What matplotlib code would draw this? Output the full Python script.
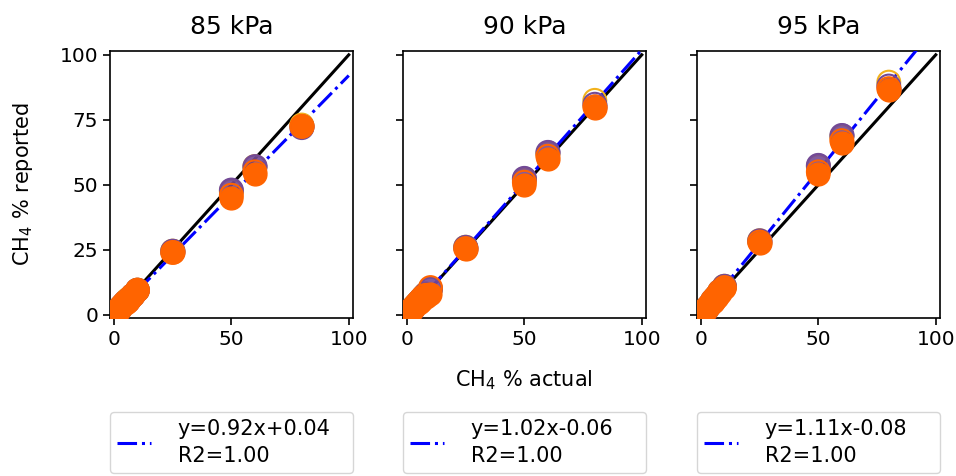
import matplotlib
matplotlib.use("Agg")
from matplotlib import pyplot as plt

# actual CH4 % (x) used in every panel
x_actual = [0.5, 1, 2, 3, 4, 5, 6, 7, 8, 10, 25, 50, 60, 80]

titles = ["85 kPa", "90 kPa", "95 kPa"]
slopes = [0.92, 1.02, 1.11]
intercepts = [0.04, -0.06, -0.08]
r2_values = [1.00, 1.00, 1.00]

# reported CH4 % per panel, per sensor series
gold_open = [
    [0.5, 1, 2, 3, 4, 5, 6, 6.5, 7.5, 9.5, 24.5, 47.5, 57, 73],
    [0.5, 1, 2, 3, 4, 5, 6, 7, 8, 10, 26, 52, 62, 82.5],
    [0.5, 1, 2, 3, 4, 5.5, 6.5, 7.5, 9, 11, 28.5, 57, 68.5, 89.5],
]
purple_open = [
    [0.5, 1, 2, 3, 4, 5, 5.5, 6.5, 7.5, 9.5, 24.5, 48, 57, 72],
    [0.5, 1, 2, 3, 4, 5, 6, 7, 8, 10, 26, 52.5, 62.5, 81],
    [0.5, 1, 2, 3, 4, 5.5, 6.5, 7.5, 9, 11, 28.5, 57.5, 69, 88],
]
purple_fill = [
    [0.5, 1, 2, 3, 4, 5, 5.5, 6.5, 7.5, 9.5, 24.5, 48, 57.3, 72.5],
    [0.5, 1, 2, 3, 4, 5, 6, 7, 8, 10, 25.8, 52.5, 62.5, 80.5],
    [0.5, 1, 2, 3, 4, 5.5, 6.5, 7.5, 9, 11, 28.5, 57.5, 69, 87],
]
orange_open = [
    [0.5, 1, 2, 3, 4, 5, 5.5, 6.5, 7.5, 9.5, 24, 46, 55, 72.5],
    [0.5, 1, 2, 3, 4, 5, 6, 7, 7.5, 10.5, 25.5, 51, 61, 80],
    [0.5, 1, 2, 3, 4, 5.5, 6.5, 7.5, 9, 10.5, 28, 55, 67, 87],
]
orange_fill = [
    [0.5, 1, 2, 3, 4, 4.5, 5.5, 6.5, 7.5, 9.5, 24, 45, 54, 72.5],
    [0.5, 1, 2, 3, 4, 4.5, 5.5, 6.5, 7, 8, 25.5, 50, 60, 79.6],
    [0.5, 1, 2, 3, 4, 5, 6, 7, 8.5, 10.5, 27.7, 54, 66, 86.5],
]

c_orange = "#ff6400"
c_purple = "#734a96"
c_gold = "#f2b21c"

plt.rcParams['font.family'] = ['DejaVu Sans']

fig = plt.figure(figsize=(9.56, 4.76), dpi=100)
lefts = [0.115, 0.4215, 0.729]
axes = []
for i in range(3):
    ax = fig.add_axes([lefts[i], 0.332, 0.254, 0.561])
    axes.append(ax)
    ms = 270
    ax.plot([0, 100], [0, 100], color="black", lw=2.2, zorder=2)
    fit_x = [0, 100]
    fit_y = [slopes[i] * v + intercepts[i] for v in fit_x]
    lab = "y={:.2f}x{:+.2f}\nR2={:.2f}".format(slopes[i], intercepts[i], r2_values[i])
    ax.plot(fit_x, fit_y, color="blue", ls="-.", lw=2.2, label=lab, zorder=3)
    ax.scatter(x_actual, gold_open[i], s=ms, facecolors="none", edgecolors=c_gold, lw=1.5, zorder=4)
    ax.scatter(x_actual, purple_open[i], s=ms, facecolors="none", edgecolors=c_purple, lw=1.5, zorder=4)
    ax.scatter(x_actual, purple_fill[i], s=ms, color=c_purple, alpha=0.9, zorder=5)
    ax.scatter(x_actual, orange_open[i], s=ms, facecolors="none", edgecolors=c_orange, lw=1.5, zorder=5)
    ax.scatter(x_actual, orange_fill[i], s=ms, color=c_orange, zorder=6)
    ax.set_xlim(-1.7, 101.7)
    ax.set_ylim(-1.2, 101.5)
    ax.set_xticks([0, 50, 100])
    ax.set_yticks([0, 25, 50, 75, 100])
    ax.tick_params(labelsize=14.5, width=1.2, length=5)
    for sp in ax.spines.values():
        sp.set_linewidth(1.2)
    ax.set_title(titles[i], fontsize=18, pad=12)
    if i > 0:
        ax.set_yticklabels([])
    leg = ax.legend(loc="upper left", bbox_to_anchor=(0, -0.352, 1, 0), mode="expand",
                    borderaxespad=0, fontsize=15, handlelength=1.6, handletextpad=1.3,
                    borderpad=0.35)
    for t in leg.get_texts():
        t.set_linespacing(1.4)

axes[0].set_ylabel("CH$_4$ % reported", fontsize=15, labelpad=18)
axes[1].set_xlabel("CH$_4$ % actual", fontsize=15, labelpad=14)

plt.savefig("out.png", dpi=100)
